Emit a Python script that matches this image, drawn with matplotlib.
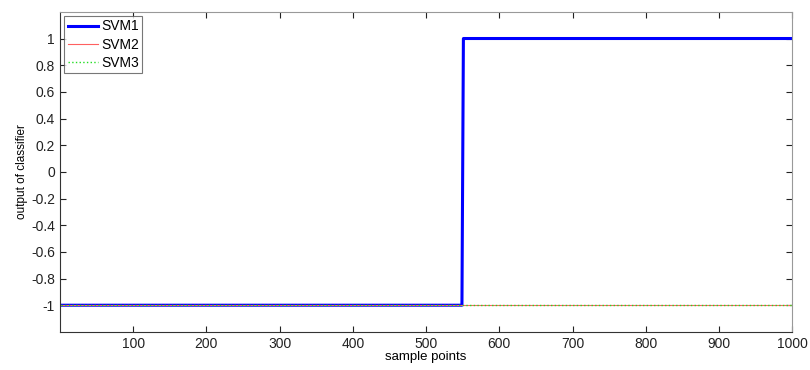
import numpy as np
import matplotlib.pyplot as plt

plt.rcParams['font.family'] = ['Liberation Sans', 'DejaVu Sans']

# breakpoints of each classifier output
svm1_x = [1, 549, 550, 551, 1000]
svm1_y = [-1, -1, 0, 1, 1]
svm2_x = [1, 1000]
svm2_y = [-1, -1]
svm3_x = [1, 1000]
svm3_y = [-1, -1]

xticks = [100, 200, 300, 400, 500, 600, 700, 800, 900, 1000]
yticks = [-1, -0.8, -0.6, -0.4, -0.2, 0, 0.2, 0.4, 0.6, 0.8, 1]
ylabels = ['-1', '-0.8', '-0.6', '-0.4', '-0.2', '0', '0.2', '0.4', '0.6', '0.8', '1']

fig = plt.figure(figsize=(8.1, 3.7), dpi=100)
ax = fig.add_axes([0.074, 0.103, 0.904, 0.865])

ax.plot(svm1_x, svm1_y, color='#0000ff', lw=2.2, label='SVM1')
ax.plot(svm2_x, svm2_y, color='#ff6060', lw=0.8, label='SVM2')
ax.plot(svm3_x, svm3_y, color='#22dd22', lw=1.0, ls=':', label='SVM3')

ax.set_xlim(0, 1000)
ax.set_ylim(-1.2, 1.2)
ax.set_xticks(xticks)
ax.set_yticks(yticks)
ax.set_yticklabels(ylabels)
ax.tick_params(direction='in', top=True, right=True, labelsize=10, length=4, width=0.8, colors='#222222')
for s in ['top', 'right']:
    ax.spines[s].set_color('#999999')
for s in ['left', 'bottom']:
    ax.spines[s].set_color('#333333')

ax.set_xlabel('sample points', fontsize=9.5, labelpad=0)
ax.set_ylabel('output of classifier', fontsize=8.5, labelpad=2)

leg = ax.legend(loc='upper left', fontsize=10, fancybox=False, borderaxespad=0.3,
                handlelength=2.2, handletextpad=0.2, labelspacing=0.3, borderpad=0.25)
leg.get_frame().set_edgecolor('#555555')
leg.get_frame().set_linewidth(0.8)

fig.savefig('out.png', dpi=100)
